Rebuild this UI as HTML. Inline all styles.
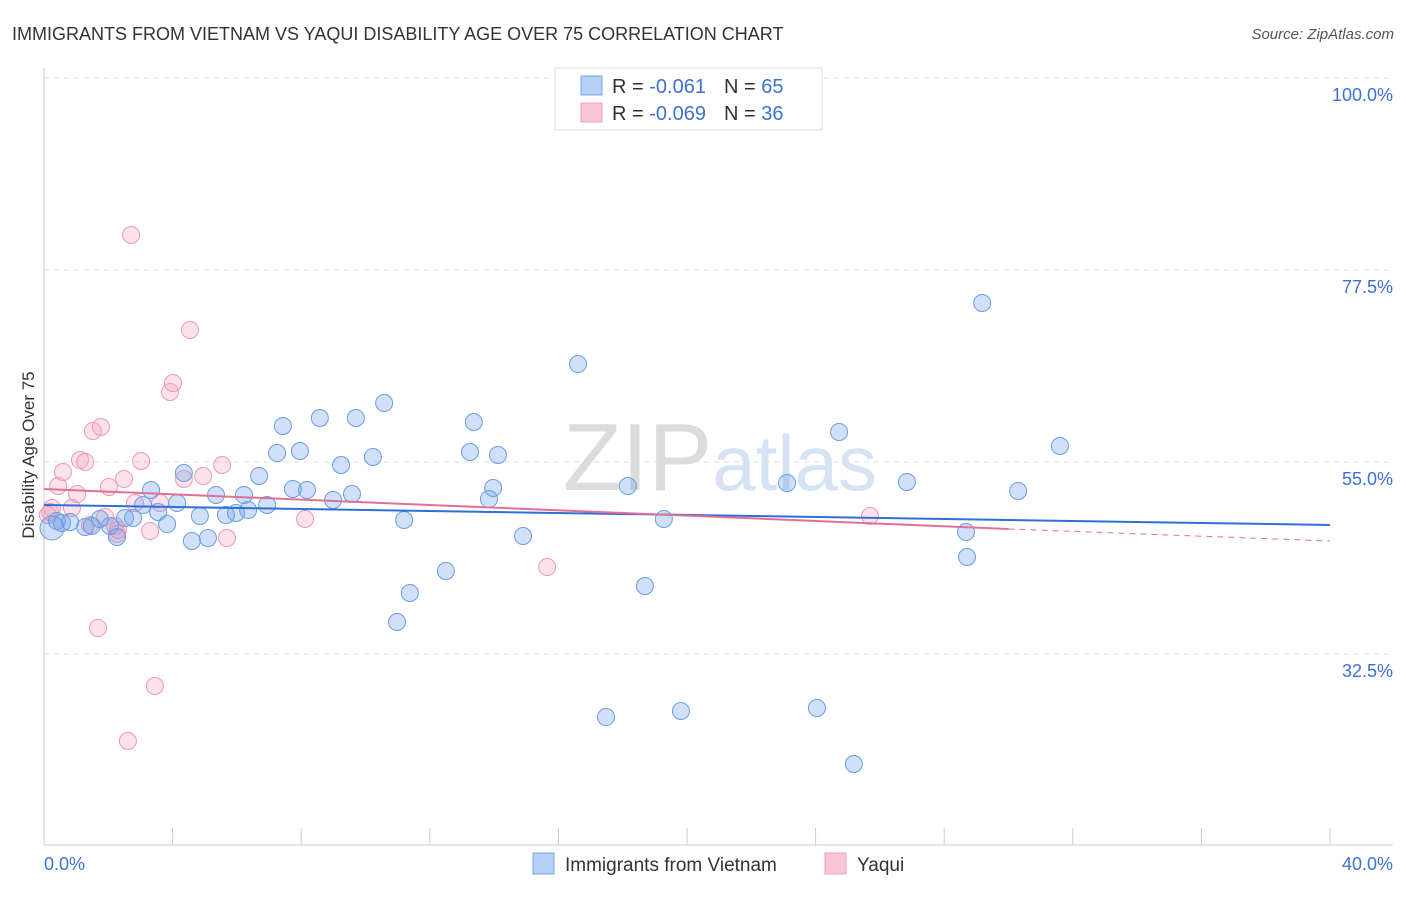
<!DOCTYPE html>
<html><head><meta charset="utf-8"><style>
body{margin:0;background:#fff;font-family:"Liberation Sans",sans-serif;}
svg text{font-family:"Liberation Sans",sans-serif;}
</style></head><body>
<svg id="chart" width="1406" height="892" xmlns="http://www.w3.org/2000/svg">
<text x="12" y="40" font-size="18" fill="#333">IMMIGRANTS FROM VIETNAM VS YAQUI DISABILITY AGE OVER 75 CORRELATION CHART</text>
<text x="1394" y="39" font-size="15" fill="#555" text-anchor="end" font-style="italic">Source: ZipAtlas.com</text>
<text x="720" y="490" font-size="96" fill="#e4e4e4" text-anchor="middle" font-family="Liberation Serif"><tspan fill="#dcdcdc">ZIP</tspan><tspan fill="#d6e3f5" font-family="Liberation Sans" font-size="78">atlas</tspan></text>
<g id="grid"></g><g id="axes"></g><g id="pts"></g><g id="lines"></g>
<text transform="translate(34,455) rotate(-90)" font-size="17" fill="#333" text-anchor="middle">Disability Age Over 75</text>
<g>
<rect x="555" y="68" width="267" height="62" fill="#fff" stroke="#ddd"/>
<rect x="581" y="76" width="21" height="19" fill="#b8d0f4" stroke="#7aa6e6"/>
<rect x="581" y="103" width="21" height="19" fill="#f9c6d6" stroke="#eea0ba"/>
<text x="612" y="93" font-size="20" fill="#333">R = <tspan fill="#3d72d4"> -0.061</tspan><tspan dx="18">N = </tspan><tspan fill="#3d72d4">65</tspan></text>
<text x="612" y="120" font-size="20" fill="#333">R = <tspan fill="#3d72d4">-0.069</tspan><tspan dx="18">N = </tspan><tspan fill="#3d72d4">36</tspan></text>
</g>
<g>
<rect x="533" y="853" width="21" height="21" fill="#b8d0f4" stroke="#7aa6e6"/>
<text x="565" y="871" font-size="19" fill="#333">Immigrants from Vietnam</text>
<rect x="825" y="853" width="21" height="21" fill="#f9c6d6" stroke="#eea0ba"/>
<text x="857" y="871" font-size="19" fill="#333">Yaqui</text>
</g>
</svg>
<script>
const blueX=[0.25,0.40,0.56,0.81,1.28,1.49,1.74,2.05,2.27,2.52,2.77,3.08,3.33,3.55,3.83,4.35,4.14,4.60,4.85,5.10,5.35,5.66,5.97,6.22,6.35,6.69,6.94,7.25,7.43,7.74,7.96,8.18,8.58,8.99,9.24,9.58,9.70,10.23,10.58,10.98,11.20,11.38,12.50,13.25,13.37,13.84,13.97,14.12,14.90,16.61,17.48,18.16,18.69,19.28,19.81,23.11,24.04,24.73,25.19,26.84,28.68,28.71,29.18,30.30,31.60];
const blueY=[47.27,48.09,47.85,47.97,47.38,47.50,48.32,47.50,46.21,48.44,48.44,49.96,51.72,49.14,47.73,53.71,50.19,45.74,48.67,46.09,51.13,48.79,49.02,51.13,49.38,53.36,49.96,56.05,59.22,51.84,56.29,51.72,60.16,50.55,54.65,51.25,60.16,55.59,61.91,36.25,48.20,39.65,42.23,56.17,59.69,50.66,51.95,55.82,46.33,66.48,25.11,52.19,40.47,48.32,25.82,52.54,26.17,58.52,19.61,52.66,46.80,43.87,73.63,51.60,56.88];
const pinkX=[0.12,0.25,0.44,0.59,0.87,1.03,1.12,1.28,1.52,1.68,1.77,1.90,2.02,2.27,2.49,2.61,2.71,2.83,3.02,3.45,3.61,3.92,4.01,4.35,4.54,4.95,5.54,5.69,8.12,15.65,25.69,0.19,1.43,2.21,3.30,2.30];
const pinkY=[48.79,49.61,52.19,53.83,49.61,51.25,55.23,55.00,58.63,35.55,59.10,48.55,52.07,46.56,53.01,22.30,81.60,50.19,55.12,28.75,50.19,63.20,64.26,53.01,70.47,53.36,54.65,46.09,48.32,42.69,48.67,49.14,47.62,47.50,46.91,47.03];
const yTicks=[100,77.5,55,32.5];
const yTickLabels=["100.0%","77.5%","55.0%","32.5%"];
const blueTrend=[49.96,47.62];
const pinkTrend=[51.84,47.15,45.74];
const pinkTrendEndX=30.0;
const NS="http://www.w3.org/2000/svg";
const sx=v=>44+v/40*1286;
const sy=v=>462-(v-55)*8.533;
function mk(t,a,p){const e=document.createElementNS(NS,t);for(const k in a)e.setAttribute(k,a[k]);p.appendChild(e);return e;}
const grid=document.getElementById('grid'),axes=document.getElementById('axes'),pts=document.getElementById('pts'),lines=document.getElementById('lines');
yTicks.forEach((v,i)=>{
 const l=mk('line',{x1:44,x2:1393,y1:sy(v),y2:sy(v),stroke:'#ddd','stroke-dasharray':'5,5'},grid);
 
 
 const t=mk('text',{x:1393,y:sy(v)+23,'font-size':18,fill:'#3d72d4','text-anchor':'end'},axes);
 t.textContent=yTickLabels[i];
 
 
});
let ax=mk('line',{x1:44,x2:44,y1:68,y2:845,stroke:'#ccc'},axes);


ax=mk('line',{x1:44,x2:1393,y1:845,y2:845,stroke:'#ccc'},axes);


for(let i=1;i<=10;i++){const tk=mk('line',{x1:sx(i*4),x2:sx(i*4),y1:828,y2:845,stroke:'#ccc'},axes);
 
 }
let xl=mk('text',{x:44,y:870,'font-size':18,fill:'#3d72d4'},axes);xl.textContent='0.0%';


xl=mk('text',{x:1393,y:870,'font-size':18,fill:'#3d72d4','text-anchor':'end'},axes);xl.textContent='40.0%';


pinkX.forEach((x,i)=>{const c=mk('circle',{cx:sx(x),cy:sy(pinkY[i]),r:8.5,fill:'rgba(244,160,190,0.3)',stroke:'#eb9ab6','stroke-width':1},pts);
 
 });
blueX.forEach((x,i)=>{const c=mk('circle',{cx:sx(x),cy:sy(blueY[i]),r:i==0?12:8.5,fill:'rgba(110,160,235,0.32)',stroke:'#6d9de2','stroke-width':1},pts);
 
 });
let ln=mk('line',{x1:sx(0),y1:sy(blueTrend[0]),x2:sx(40),y2:sy(blueTrend[1]),stroke:'#2f6fd6','stroke-width':2},lines);


ln=mk('line',{x1:sx(0),y1:sy(pinkTrend[0]),x2:sx(pinkTrendEndX),y2:sy(pinkTrend[1]),stroke:'#e0709a','stroke-width':2},lines);


ln=mk('line',{x1:sx(pinkTrendEndX),y1:sy(pinkTrend[1]),x2:sx(40),y2:sy(pinkTrend[2]),stroke:'#e0709a','stroke-width':1,'stroke-dasharray':'6,5'},lines);


</script>
</body></html>
